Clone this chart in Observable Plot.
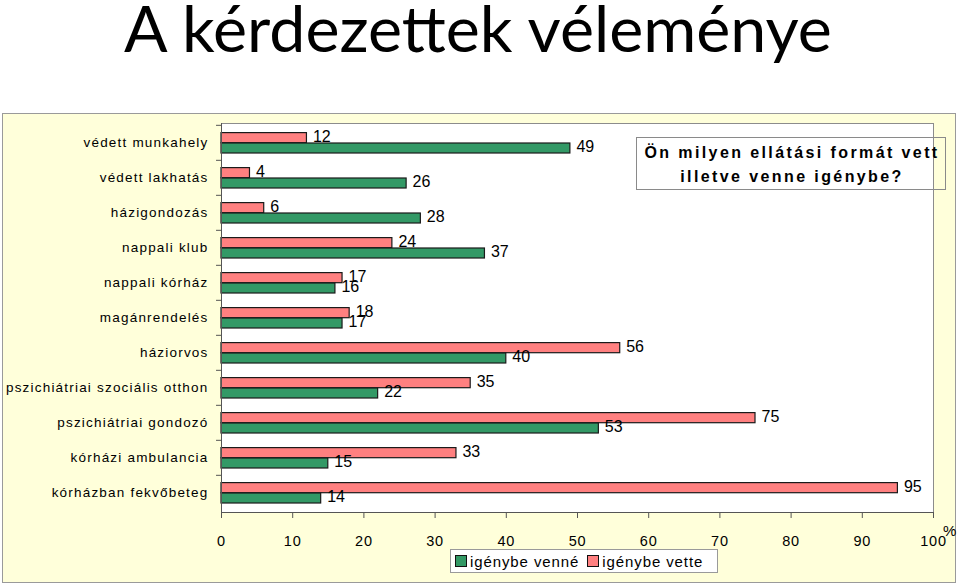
<!DOCTYPE html>
<html>
<head>
<meta charset="utf-8">
<script src="https://cdn.jsdelivr.net/npm/d3@7"></script>
<script src="https://cdn.jsdelivr.net/npm/@observablehq/plot@0.6"></script>
<style>
  html, body { margin: 0; padding: 0; background: #ffffff; }
  body { position: relative; width: 960px; height: 586px; overflow: hidden; font-family: "Liberation Sans", Arial, sans-serif; }
  #title { position: absolute; left: 0; top: 0; width: 956px; text-align: center; font-family: Lato, "Open Sans", sans-serif; font-size: 64.5px; line-height: 55px; color: #000; white-space: nowrap; }
  #panel { position: absolute; left: 2px; top: 113px; width: 952px; height: 468px; background: #FFFFDA; border: 1px solid #9a9a9a; }
  #chart { position: absolute; left: 0; top: 113px; }
  #chart svg g[aria-label="y-axis tick label"] text { letter-spacing: 1.2px; }
  #chart svg g[aria-label="x-axis tick label"] text { letter-spacing: 0.8px; }
  #chart svg g[aria-label="value-label"] text { letter-spacing: 2.5px; }
  #note { position: absolute; left: 636px; top: 137px; width: 310px; height: 53px; border: 1px solid #8a8a8a; box-sizing: border-box; text-align: center; font-weight: bold; font-size: 16px; letter-spacing: 2.4px; line-height: 24px; padding-top: 3px; padding-left: 2px; color: #000; white-space: nowrap; }
  #legend { position: absolute; left: 450px; top: 549px; width: 268px; height: 24px; box-sizing: border-box; background: #fff; border: 1px solid #9a9a9a; font-size: 15px; letter-spacing: 0.9px; display: flex; align-items: center; padding-left: 4px; color: #000; white-space: nowrap; }
  #legend .sw { display: inline-block; width: 10px; height: 10px; border: 1px solid #111; margin-right: 3px; }
  #legend .item { display: flex; align-items: center; margin-right: 8px; }
  #pct { position: absolute; left: 943px; top: 522px; font-size: 15px; color: #000; }
</style>
</head>
<body>
<div id="title">A kérdezettek véleménye</div>
<div id="panel"></div>
<div id="chart"></div>
<div id="note">Ön milyen ellátási formát vett<br>illetve venne igénybe?</div>
<div id="legend"></div>
<div id="pct">%</div>
<script>
const categories = [
  "védett munkahely",
  "védett lakhatás",
  "házigondozás",
  "nappali klub",
  "nappali kórház",
  "magánrendelés",
  "háziorvos",
  "pszichiátriai szociális otthon",
  "pszichiátriai gondozó",
  "kórházi ambulancia",
  "kórházban fekvőbeteg"
];
const vette = [12, 4, 6, 24, 17, 18, 56, 35, 75, 33, 95];
const venne = [49, 26, 28, 37, 16, 17, 40, 22, 53, 15, 14];
const xTicks = [0, 10, 20, 30, 40, 50, 60, 70, 80, 90, 100];
const seriesNames = ["igénybe venné", "igénybe vette"];
const seriesColors = ["#339966", "#FF8080"];

const rows = categories.map((c, i) => ({cat: c, vette: vette[i], venne: venne[i]}));

const W = 960, H = 473, mT = 10, mB = 74, mL = 221, mR = 27;
const step = (H - mT - mB) / categories.length;

const chart = Plot.plot({
  width: W,
  height: H,
  marginTop: mT,
  marginBottom: mB,
  marginLeft: mL,
  marginRight: mR,
  style: {background: "transparent", fontFamily: "'Liberation Sans', Arial, sans-serif", color: "#000", overflow: "visible"},
  x: {domain: [0, 100], ticks: xTicks, label: null},
  y: {type: "band", domain: categories, padding: 0, label: null},
  marks: [
    Plot.frame({fill: "#ffffff", stroke: "#8c8c8c"}),
    Plot.ruleY(categories, {y: d => d, x1: -0.7, x2: 0, dy: -step / 2, stroke: "#555"}),
    Plot.barX(rows, {y: "cat", x: "vette", fill: seriesColors[1], stroke: "#1a1a1a", strokeWidth: 1.2, insetTop: 7.6, insetBottom: 17.3}),
    Plot.barX(rows, {y: "cat", x: "venne", fill: seriesColors[0], stroke: "#1a1a1a", strokeWidth: 1.2, insetTop: 18, insetBottom: 7}),
    Plot.text(rows, {y: "cat", x: "vette", text: "vette", dx: 6, dy: -6.5, textAnchor: "start", fontSize: 16, fill: "#000", ariaLabel: "value-label"}),
    Plot.text(rows, {y: "cat", x: "venne", text: "venne", dx: 6, dy: 4, textAnchor: "start", fontSize: 16, fill: "#000", ariaLabel: "value-label"}),
    Plot.axisY({tickSize: 0, tickPadding: 13, fontSize: 13.5, label: null}),
    Plot.axisX({ticks: xTicks, tickSize: 6, tickPadding: 17, fontSize: 14.5, stroke: "#555", label: null}),
    Plot.frame({anchor: "bottom", stroke: "#555"}),
    Plot.frame({anchor: "left", stroke: "#555"})
  ]
});
document.getElementById("chart").appendChild(chart);

const legend = document.getElementById("legend");
seriesNames.forEach((name, i) => {
  const item = document.createElement("span");
  item.className = "item";
  const sw = document.createElement("span");
  sw.className = "sw";
  sw.style.background = seriesColors[i];
  item.appendChild(sw);
  item.appendChild(document.createTextNode(name));
  legend.appendChild(item);
});
</script>
</body>
</html>
